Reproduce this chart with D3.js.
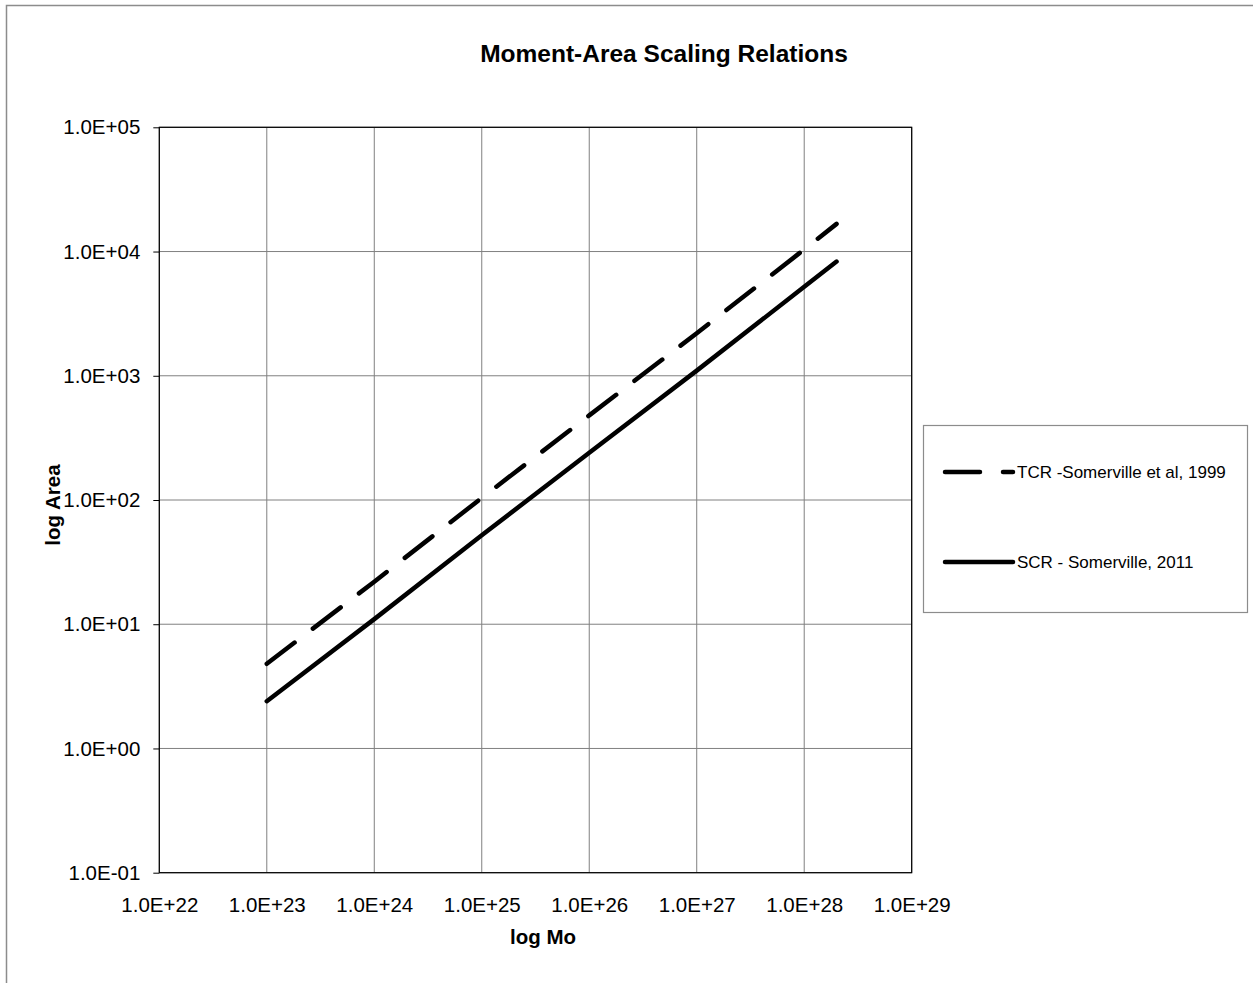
<!DOCTYPE html>
<html>
<head>
<meta charset="utf-8">
<script src="https://cdn.jsdelivr.net/npm/d3@7"></script>
<style>
    body { margin: 0; background: #fff; }
    svg { font-family: "Liberation Sans", Arial, sans-serif; }
</style>
</head>
<body>
<script>
//data
var momentValues = [1e23, 1e24, 1e25, 1e26, 1e27, 1e28, 2.0e28];
var tcrArea = [4.8, 22, 104, 480, 2.2e3, 1.04e4, 1.67e4];
var scrArea = [2.4, 11, 52, 240, 1.1e3, 5.2e3, 8.3e3];
var seriesNames = ["TCR -Somerville et al, 1999", "SCR - Somerville, 2011"];
var xTickValues = [1e22, 1e23, 1e24, 1e25, 1e26, 1e27, 1e28, 1e29];
var yTickValues = [1e-1, 1e0, 1e1, 1e2, 1e3, 1e4, 1e5];

(function () {
    var width = 1253, height = 983;
    var margin = { left: 159.3, top: 127.3 };
    var plotW = 752.4, plotH = 745.4;

    var svg = d3.select("body").append("svg")
        .attr("width", width)
        .attr("height", height);

    //outer chart border
    svg.append("rect")
        .attr("x", 6.5).attr("y", 5.5)
        .attr("width", 1400).attr("height", 1200)
        .attr("fill", "none")
        .attr("stroke", "#8c8c8c")
        .attr("stroke-width", 1.5);

    var x = d3.scaleLog().domain([1e22, 1e29]).range([0, plotW]);
    var y = d3.scaleLog().domain([1e-1, 1e5]).range([plotH, 0]);

    //1.0E+22 style labels
    function fmt(d) {
        var e = Math.round(Math.log10(d));
        return "1.0E" + (e < 0 ? "-" : "+") + String(Math.abs(e)).padStart(2, "0");
    }

    var g = svg.append("g").attr("transform", "translate(" + margin.left + "," + margin.top + ")");

    //grid lines
    g.selectAll(".vgrid").data(xTickValues).enter().append("line")
        .attr("x1", function (d) { return x(d); })
        .attr("x2", function (d) { return x(d); })
        .attr("y1", 0).attr("y2", plotH)
        .attr("stroke", "#808080").attr("stroke-width", 1);
    g.selectAll(".hgrid").data(yTickValues).enter().append("line")
        .attr("y1", function (d) { return y(d); })
        .attr("y2", function (d) { return y(d); })
        .attr("x1", 0).attr("x2", plotW)
        .attr("stroke", "#808080").attr("stroke-width", 1);

    //y axis
    var yAxis = g.append("g")
        .call(d3.axisLeft(y).tickValues(yTickValues).tickFormat(fmt).tickSize(6).tickPadding(13));
    yAxis.select(".domain").remove();
    yAxis.selectAll("line").attr("stroke", "#000");
    yAxis.selectAll("text")
        .attr("font-size", "20.5px")
        .attr("font-family", "Liberation Sans, Arial, sans-serif")
        .attr("fill", "#000");

    //x axis (labels only)
    var xAxis = g.append("g")
        .attr("transform", "translate(0," + plotH + ")")
        .call(d3.axisBottom(x).tickValues(xTickValues).tickFormat(fmt).tickSize(0).tickPadding(25));
    xAxis.select(".domain").remove();
    xAxis.selectAll("text")
        .attr("font-size", "20.5px")
        .attr("font-family", "Liberation Sans, Arial, sans-serif")
        .attr("fill", "#000");

    //plot frame
    g.append("rect")
        .attr("width", plotW).attr("height", plotH)
        .attr("fill", "none")
        .attr("stroke", "#000").attr("stroke-width", 1.2);

    //series lines
    var line = d3.line()
        .x(function (d) { return x(d[0]); })
        .y(function (d) { return y(d[1]); });

    var series = [
        { name: seriesNames[0], values: d3.zip(momentValues, tcrArea), dash: "35,23" },
        { name: seriesNames[1], values: d3.zip(momentValues, scrArea), dash: null }
    ];

    g.selectAll(".series").data(series).enter().append("path")
        .attr("d", function (d) { return line(d.values); })
        .attr("fill", "none")
        .attr("stroke", "#000")
        .attr("stroke-width", 4.5)
        .attr("stroke-linecap", "round")
        .attr("stroke-dasharray", function (d) { return d.dash; });

    //titles
    svg.append("text")
        .attr("x", 664).attr("y", 62)
        .attr("text-anchor", "middle")
        .attr("font-size", "24.5px").attr("font-weight", "bold")
        .text("Moment-Area Scaling Relations");

    svg.append("text")
        .attr("x", 543).attr("y", 944)
        .attr("text-anchor", "middle")
        .attr("font-size", "20.5px").attr("font-weight", "bold")
        .text("log Mo");

    svg.append("text")
        .attr("transform", "translate(60,505) rotate(-90)")
        .attr("text-anchor", "middle")
        .attr("font-size", "20.5px").attr("font-weight", "bold")
        .text("log Area");

    //legend
    var legend = svg.append("g");
    legend.append("rect")
        .attr("x", 923.5).attr("y", 425.5)
        .attr("width", 324).attr("height", 187)
        .attr("fill", "#fff")
        .attr("stroke", "#8c8c8c").attr("stroke-width", 1.2);

    var items = legend.selectAll(".item").data(series).enter().append("g")
        .attr("transform", function (d, i) { return "translate(0," + (472 + i * 90) + ")"; });
    items.append("line")
        .attr("x1", 945).attr("x2", 1013)
        .attr("stroke", "#000")
        .attr("stroke-width", 4.5)
        .attr("stroke-linecap", "round")
        .attr("stroke-dasharray", function (d) { return d.dash; });
    items.append("text")
        .attr("x", 1017).attr("y", 6)
        .attr("font-size", "17px")
        .text(function (d) { return d.name; });
})();
</script>
</body>
</html>
